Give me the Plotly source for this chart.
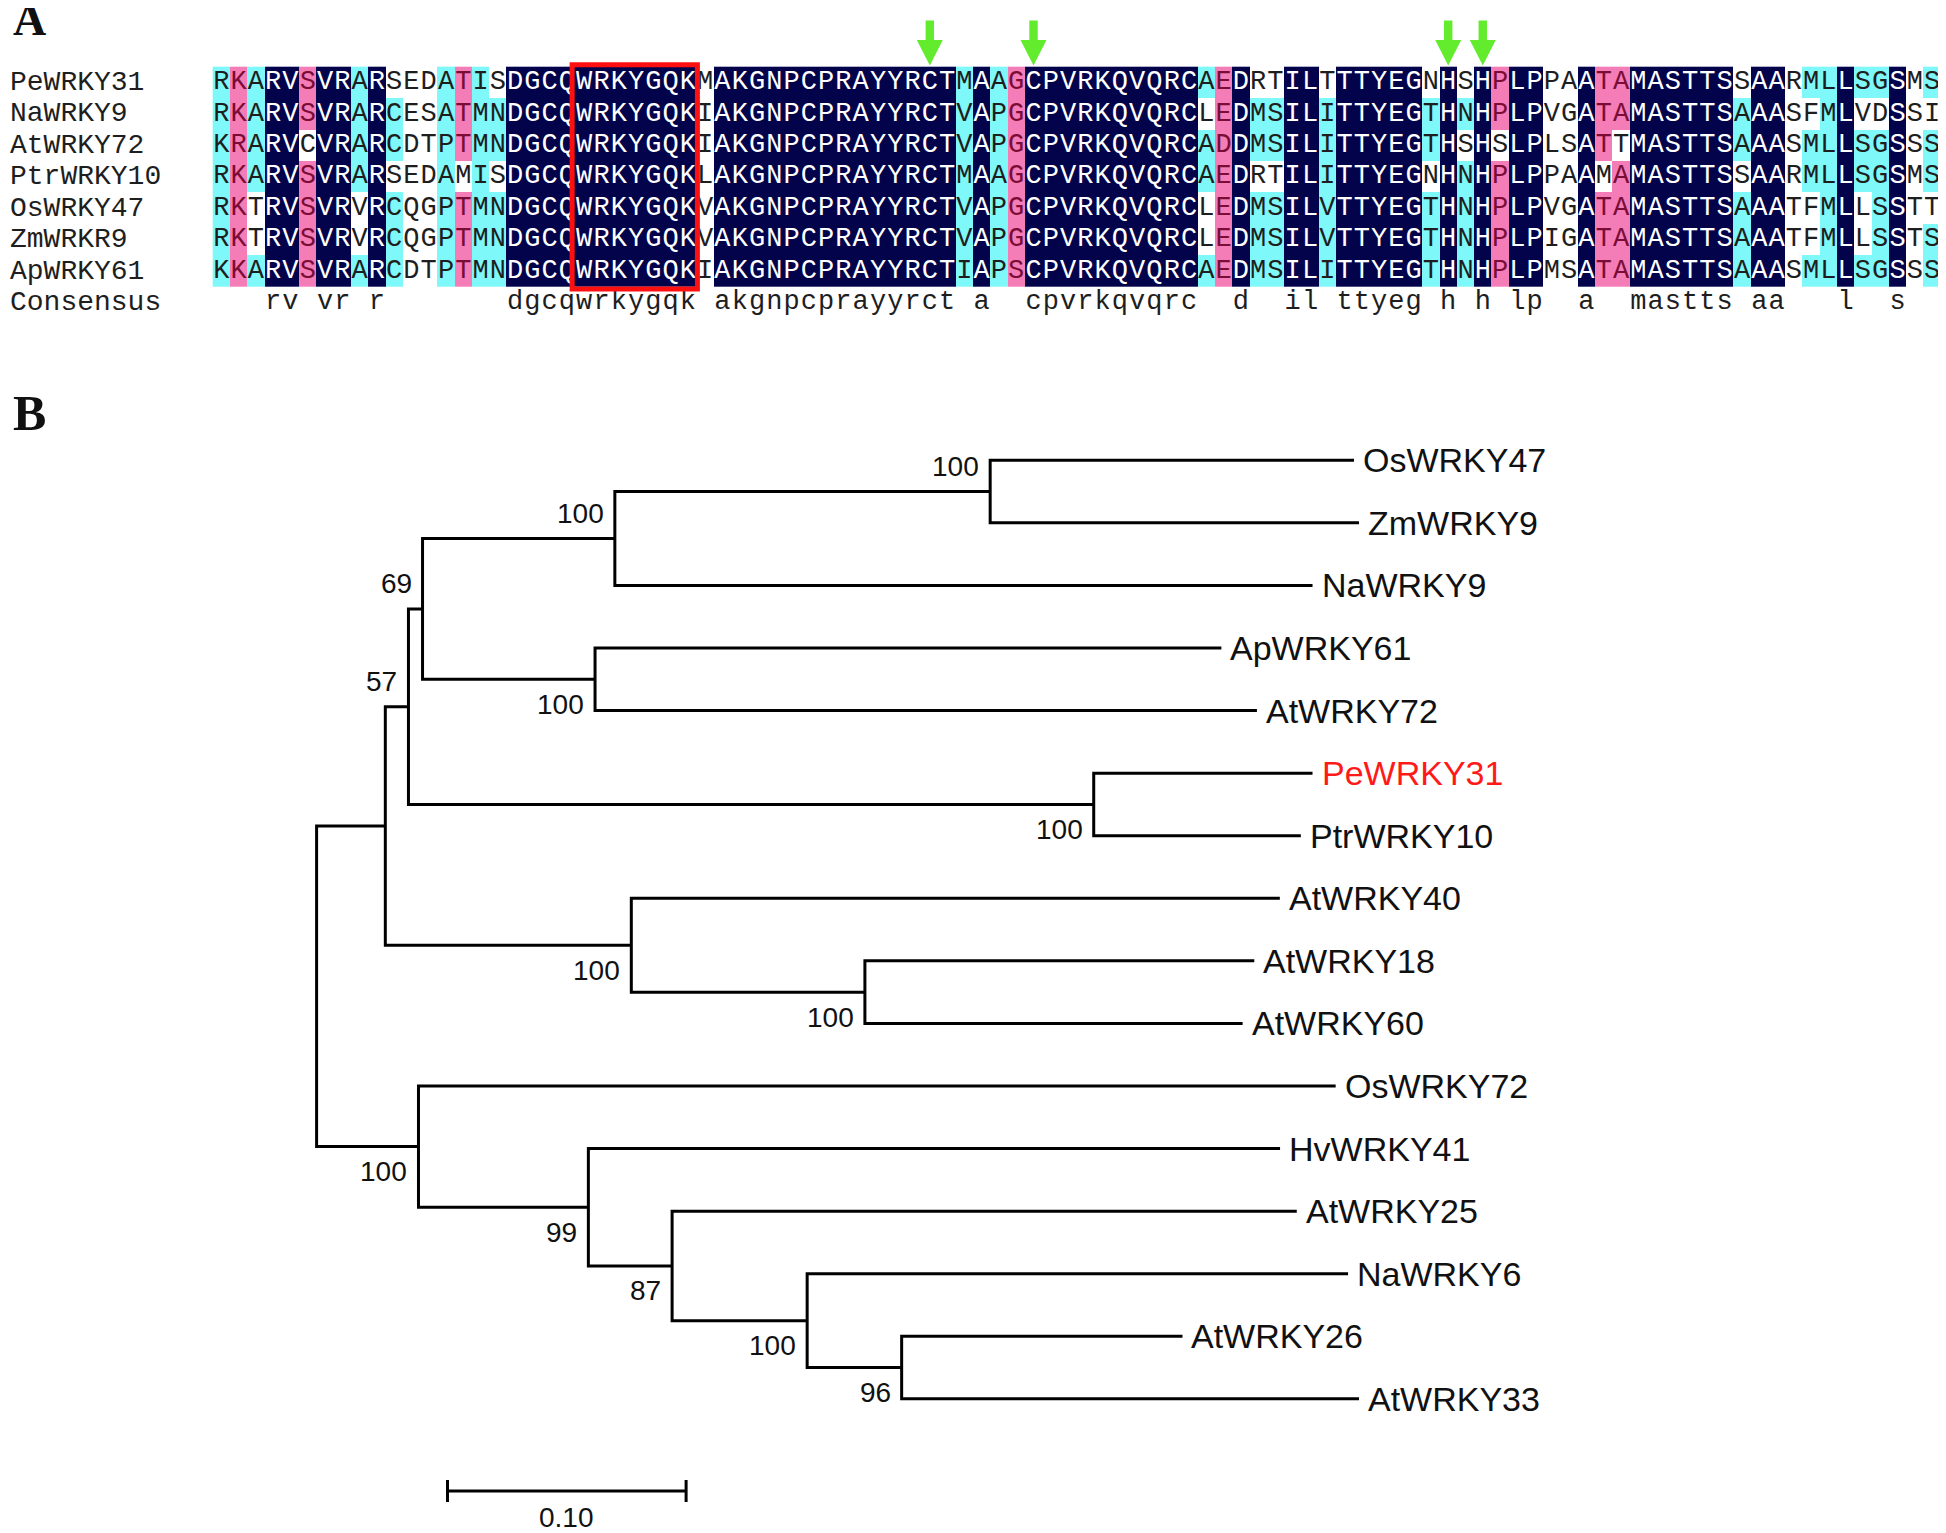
import plotly.graph_objects as go

# ---------------- DATA ----------------
seq_names = ["PeWRKY31", "NaWRKY9", "AtWRKY72", "PtrWRKY10", "OsWRKY47", "ZmWRKR9", "ApWRKY61"]
sequences = [
    "RKARVSVRARSEDATISDGCQWRKYGQKMAKGNPCPRAYYRCTMAAGCPVRKQVQRCAEDRTILTTTYEGNHSHPLPPAATAMASTTSSAARMLLSGSMS",
    "RKARVSVRARCESATMNDGCQWRKYGQKIAKGNPCPRAYYRCTVAPGCPVRKQVQRCLEDMSILITTYEGTHNHPLPVGATAMASTTSAAASFMLVDSSI",
    "KRARVCVRARCDTPTMNDGCQWRKYGQKIAKGNPCPRAYYRCTVAPGCPVRKQVQRCADDMSILITTYEGTHSHSLPLSATTMASTTSAAASMLLSGSSS",
    "RKARVSVRARSEDAMISDGCQWRKYGQKLAKGNPCPRAYYRCTMAAGCPVRKQVQRCAEDRTILITTYEGNHNHPLPPAAMAMASTTSSAARMLLSGSMS",
    "RKTRVSVRVRCQGPTMNDGCQWRKYGQKVAKGNPCPRAYYRCTVAPGCPVRKQVQRCLEDMSILVTTYEGTHNHPLPVGATAMASTTSAAATFMLLSSTT",
    "RKTRVSVRVRCQGPTMNDGCQWRKYGQKVAKGNPCPRAYYRCTVAPGCPVRKQVQRCLEDMSILVTTYEGTHNHPLPIGATAMASTTSAAATFMLLSSTS",
    "KKARVSVRARCDTPTMNDGCQWRKYGQKIAKGNPCPRAYYRCTIAPSCPVRKQVQRCAEDMSILITTYEGTHNHPLPMSATAMASTTSAAASMLLSGSSS",
]
consensus = ("   rv vr r" "       " "dgcqwrkygqk" " " "akgnpcprayyrct" " a  " "cpvrkqvqrc"
             "  d  il " "ttyeg" " h h " "lp  a  " "mastts" " aa   l  s  ")
# shading per column (rows top->bottom); N=identical, P=high, C=medium, W=none; one letter = whole column
shade_cols = [
    "C", "P", "CCCCWWC", "N", "N", "PPWPPPP", "N", "N", "CCCCWWC", "N",
    "WCCWCCC", "W", "W", "C", "PPPWPPP", "C", "WCCWCCC", "N", "N", "N",
    "N", "N", "N", "N", "N", "N", "N", "N", "W", "N",
    "N", "N", "N", "N", "N", "N", "N", "N", "N", "N",
    "N", "N", "N", "C", "N", "C", "P", "N", "N", "N",
    "N", "N", "N", "N", "N", "N", "N", "CWCCWWC", "P", "N",
    "WCCWCCC", "WCCWCCC", "N", "N", "WCCCCCC", "N", "N", "N", "N", "N",
    "WCCWCCC", "N", "WCWCCCC", "N", "PPWPPPP", "N", "N", "W", "W", "N",
    "PPPWPPP", "PPWPPPP", "N", "N", "N", "N", "N", "N", "WCCWCCC", "N",
    "N", "W", "CWCCWWC", "C", "N", "CWCCWWC", "CWCCCCC", "N", "W", "CWCCWCC",
]
arrow_cols = [42, 48, 72, 74]
motif_cols = (22, 28)

leaf_names = ["OsWRKY47", "ZmWRKY9", "NaWRKY9", "ApWRKY61", "AtWRKY72", "PeWRKY31", "PtrWRKY10",
              "AtWRKY40", "AtWRKY18", "AtWRKY60", "OsWRKY72", "HvWRKY41", "AtWRKY25", "NaWRKY6",
              "AtWRKY26", "AtWRKY33"]
leaf_lengths = [0.1525, 0.1546, 0.2924, 0.2625, 0.2774, 0.0917, 0.0868,
                0.2718, 0.1632, 0.1583, 0.3844, 0.2899, 0.2618, 0.2267,
                0.1177, 0.1917]
node_ids = ["n1", "n2", "n3", "n4", "n5", "n6", "n7", "n8", "n9", "n10", "n11", "n12", "n13", "n14", "root"]
node_children = [["OsWRKY47", "ZmWRKY9"], ["n1", "NaWRKY9"], ["ApWRKY61", "AtWRKY72"], ["n2", "n3"],
                 ["PeWRKY31", "PtrWRKY10"], ["n4", "n5"], ["AtWRKY18", "AtWRKY60"], ["AtWRKY40", "n7"],
                 ["n6", "n8"], ["AtWRKY26", "AtWRKY33"], ["NaWRKY6", "n10"], ["AtWRKY25", "n11"],
                 ["HvWRKY41", "n12"], ["OsWRKY72", "n13"], ["n9", "n14"]]
node_lengths = [0.1573, 0.0806, 0.0723, 0.0059, 0.2872, 0.0097, 0.0979, 0.1031, 0.0288,
                0.0396, 0.0566, 0.0351, 0.0712, 0.0427, 0.0]
node_bootstrap = [100, 100, 100, 69, 100, 57, 100, 100, None, 96, 100, 87, 99, 100, None]
highlight_leaf = "PeWRKY31"
scale_bar_len = 0.10

# ---------------- LAYOUT CONSTANTS ----------------
OFF = 8                      # page body margin of the browser
W, H = 1946 - OFF, 1533 - OFF
AL_X0, COL_W = 212.7 - OFF, 17.28
AL_Y0, ROW_H = 66.7 - OFF, 31.43
TR_X0, TR_UNIT = 316.6 - OFF, 2386.0
TR_Y0, TR_STEP = 460.3 - OFF, 62.57

NAVY, PINK, CYAN = "#03034b", "#f47db8", "#7ef8f8"
MONO = "Liberation Mono, Courier New, monospace"
SANS = "Arial, Liberation Sans, Arimo, sans-serif"
SERIF = "Times New Roman, Liberation Serif, serif"

fig = go.Figure()

# ---------------- ALIGNMENT ----------------
ncol = len(sequences[0])
nrow = len(sequences)
cols = [c * nrow if len(c) == 1 else c for c in shade_cols]
level = {"W": 0, "C": 1, "P": 2, "N": 3}
z = [[level[cols[j][i]] for j in range(ncol)] for i in range(nrow)]
fig.add_trace(go.Heatmap(
    z=z, x=list(range(1, ncol + 1)), y=list(range(nrow)),
    zmin=0, zmax=3, showscale=False, hoverinfo="skip",
    colorscale=[[0, "#ffffff"], [1 / 6, "#ffffff"], [1 / 6, CYAN], [0.5, CYAN],
                [0.5, PINK], [5 / 6, PINK], [5 / 6, NAVY], [1, NAVY]],
    xaxis="x", yaxis="y"))

tx, ty, tt, tc = [], [], [], []
txt_col = {"N": "#ffffff", "P": "#7a0c36", "C": "#1e1e1e", "W": "#1e1e1e"}
for i, s in enumerate(sequences):
    for j, ch in enumerate(s):
        tx.append(j + 1); ty.append(i); tt.append(ch); tc.append(txt_col[cols[j][i]])
for j, ch in enumerate(consensus):
    if ch != " ":
        tx.append(j + 1); ty.append(nrow); tt.append(ch); tc.append("#1e1e1e")
fig.add_trace(go.Scatter(x=tx, y=ty, text=tt, mode="text", textposition="middle center",
                         textfont=dict(family=MONO, size=27, color=tc),
                         hoverinfo="skip", xaxis="x", yaxis="y"))

annotations = []
for i, name in enumerate(seq_names + ["Consensus"]):
    annotations.append(dict(x=0, xref="paper", y=i, yref="y", text=name, showarrow=False,
                            xanchor="left", yanchor="middle",
                            font=dict(family=MONO, size=28, color="#1e1e1e")))

shapes = []
# motif box
shapes.append(dict(type="rect", xref="x", yref="y",
                   x0=motif_cols[0] - 0.5 - 0.2, x1=motif_cols[1] + 0.5 + 0.05,
                   y0=-0.5 - 0.06, y1=nrow - 0.5 + 0.07,
                   line=dict(color="#ff1010", width=5)))
# green arrows
def ry(px):
    return (px - OFF - AL_Y0) / ROW_H - 0.5
sw, hw = 4.2 / COL_W, 13.0 / COL_W
for c in arrow_cols:
    path = (f"M {c - sw},{ry(20.5)} L {c + sw},{ry(20.5)} L {c + sw},{ry(40)} L {c + hw},{ry(40)} "
            f"L {c},{ry(65.5)} L {c - hw},{ry(40)} L {c - sw},{ry(40)} Z")
    shapes.append(dict(type="path", xref="x", yref="y", path=path,
                       fillcolor="#63ec2e", line=dict(width=0)))

# ---------------- TREE ----------------
length = dict(zip(leaf_names, leaf_lengths))
length.update(zip(node_ids, node_lengths))
children = dict(zip(node_ids, node_children))
boot = dict(zip(node_ids, node_bootstrap))
xpos = {"root": 0.0}

def place(n):
    for c in children.get(n, []):
        xpos[c] = xpos[n] + length[c]
        place(c)
place("root")

ypos = {name: i for i, name in enumerate(leaf_names)}
def ycalc(n):
    if n in ypos:
        return ypos[n]
    ys = [ycalc(c) for c in children[n]]
    ypos[n] = (min(ys) + max(ys)) / 2
    return ypos[n]
ycalc("root")

lx, ly = [], []
for n in node_ids:
    ch = children[n]
    a, b = ch[0], ch[-1]
    lx += [xpos[a], xpos[n], xpos[n], xpos[b], None]
    ly += [ypos[a], ypos[a], ypos[b], ypos[b], None]
fig.add_trace(go.Scatter(x=lx, y=ly, mode="lines", line=dict(color="black", width=3),
                         hoverinfo="skip", xaxis="x2", yaxis="y2"))

for leaf in leaf_names:
    annotations.append(dict(x=xpos[leaf], y=ypos[leaf], xref="x2", yref="y2", text=leaf,
                            showarrow=False, xanchor="left", yanchor="middle", xshift=7,
                            font=dict(family=SANS, size=34,
                                      color="#ff1a1a" if leaf == highlight_leaf else "#111111")))

above = {"n1", "n2", "n4", "n6"}
for n in node_ids:
    if boot[n] is None:
        continue
    annotations.append(dict(x=xpos[n], y=ypos[n], xref="x2", yref="y2", text=str(boot[n]),
                            showarrow=False, xanchor="right", yanchor="middle", xshift=-9,
                            yshift=25 if n in above else -25,
                            font=dict(family=SANS, size=28, color="#111111")))

# scale bar
sb_x0 = (447.5 - OFF - TR_X0) / TR_UNIT
sb_y = 1 - (1491 - OFF) / H
tick = 11 / H
shapes.append(dict(type="line", xref="x2", yref="paper", x0=sb_x0, x1=sb_x0 + scale_bar_len,
                   y0=sb_y, y1=sb_y, line=dict(color="black", width=3)))
for xx in (sb_x0, sb_x0 + scale_bar_len):
    shapes.append(dict(type="line", xref="x2", yref="paper", x0=xx, x1=xx,
                       y0=sb_y - tick, y1=sb_y + tick, line=dict(color="black", width=3)))
annotations.append(dict(x=sb_x0 + scale_bar_len / 2, xref="x2", y=1 - (1517 - OFF) / H, yref="paper",
                        text=f"{scale_bar_len:.2f}", showarrow=False, xanchor="center", yanchor="middle",
                        font=dict(family=SANS, size=28, color="#111111")))

# panel letters
for letter, py, sz in (("A", 19, 46), ("B", 413, 50)):
    annotations.append(dict(x=(11 - OFF) / W, y=1 - (py - OFF) / H, xref="paper", yref="paper",
                            text=f"<b>{letter}</b>", showarrow=False, xanchor="left", yanchor="middle",
                            font=dict(family=SERIF, size=sz, color="#111111")))

fig.update_layout(
    width=W, height=H, margin=dict(l=0, r=0, t=0, b=0),
    paper_bgcolor="white", plot_bgcolor="rgba(0,0,0,0)", showlegend=False,
    xaxis=dict(domain=[0, 1], range=[(0 - AL_X0) / COL_W + 0.5, (W - AL_X0) / COL_W + 0.5],
               visible=False, fixedrange=True),
    yaxis=dict(domain=[0, 1], range=[(H - AL_Y0) / ROW_H - 0.5, (0 - AL_Y0) / ROW_H - 0.5],
               visible=False, fixedrange=True),
    xaxis2=dict(domain=[0, 1], anchor="y2", range=[(0 - TR_X0) / TR_UNIT, (W - TR_X0) / TR_UNIT],
                visible=False, fixedrange=True),
    yaxis2=dict(domain=[0, 1], anchor="x2", range=[(H - TR_Y0) / TR_STEP, (0 - TR_Y0) / TR_STEP],
                visible=False, fixedrange=True),
    shapes=shapes, annotations=annotations,
)

fig.write_html("out.html", config={"displayModeBar": False})
